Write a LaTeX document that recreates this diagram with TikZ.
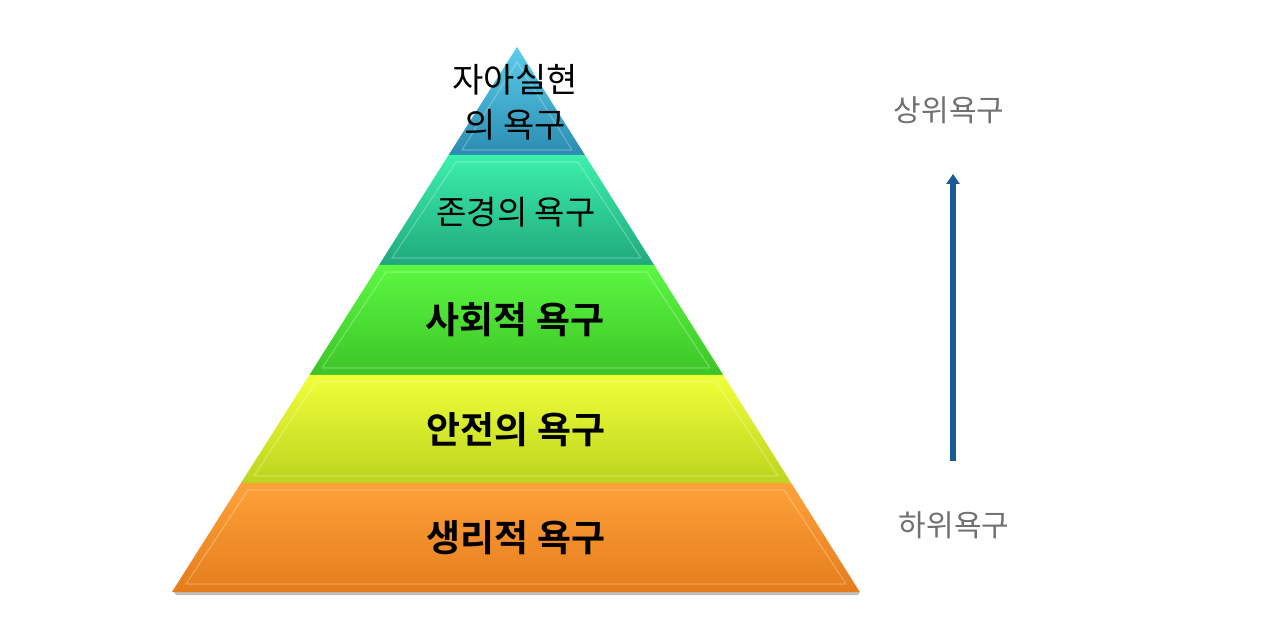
\documentclass[tikz,border=0pt]{standalone}
\usepackage{fontspec}
\newfontfamily\kr{Noto Sans CJK KR}[BoldFont={Noto Sans CJK KR Bold}]
\usetikzlibrary{arrows.meta}
\definecolor{topA}{HTML}{5CCDEB}\definecolor{topB}{HTML}{2A8CB0}
\definecolor{tealA}{HTML}{3CF0AC}\definecolor{tealB}{HTML}{20A87C}
\definecolor{grnA}{HTML}{5CF842}\definecolor{grnB}{HTML}{3CC426}
\definecolor{yelA}{HTML}{F0FF3A}\definecolor{yelB}{HTML}{BCD41E}
\definecolor{orgA}{HTML}{FFA23A}\definecolor{orgB}{HTML}{E47C1C}
\definecolor{sidegray}{HTML}{707070}
\definecolor{arrowblue}{HTML}{1A5A96}
\tikzset{
  layertext/.style={font=\kr\bfseries\fontsize{37}{40}\selectfont, text=black, inner sep=0pt},
  toptext/.style={font=\kr\fontsize{34}{38}\selectfont, text=black, inner sep=0pt},
  lighttext/.style={font=\kr\fontsize{33}{36}\selectfont, text=black, inner sep=0pt},
  sidetext/.style={font=\kr\fontsize{30}{34}\selectfont, text=sidegray, inner sep=0pt},
  bevel/.style={draw=white, draw opacity=0.25, line width=1.2pt, line join=round},
  upward/.style={draw=arrowblue, line width=6pt, -{Triangle[length=10pt,width=13pt]}},
}
\begin{document}
\begin{tikzpicture}[x=1pt,y=-1pt]
\useasboundingbox (0,0) rectangle (1280,617);
\fill[white] (0,0) rectangle (1280,617);
% shadow under base
\fill[black!25] (174,592) -- (860,592) -- (858,595) -- (176,595) -- cycle;
% layers
\shade[top color=topA, bottom color=topB] (517,47) -- (584.9,155) -- (448.6,155) -- cycle;
\shade[top color=tealA, bottom color=tealB] (448.6,155) -- (584.9,155) -- (654.1,265) -- (379.0,265) -- cycle;
\shade[top color=grnA, bottom color=grnB] (379.0,265) -- (654.1,265) -- (723.3,375) -- (309.4,375) -- cycle;
\shade[top color=yelA, bottom color=yelB] (309.4,375) -- (723.3,375) -- (791.2,483) -- (241.0,483) -- cycle;
\shade[top color=orgA, bottom color=orgB] (241.0,483) -- (791.2,483) -- (859.8,592) -- (172,592) -- cycle;
% bevel highlights
\draw[bevel] (517,62) -- (572,150) -- (462,150) -- cycle;
\draw[bevel] (456,162) -- (578,162) -- (641,258) -- (392,258) -- cycle;
\draw[bevel] (386,272) -- (647,272) -- (710,368) -- (322,368) -- cycle;
\draw[bevel] (316,382) -- (716,382) -- (778,476) -- (254,476) -- cycle;
\draw[bevel] (248,490) -- (784,490) -- (846,584) -- (186,584) -- cycle;
% layer texts
\node[toptext] (t1a) at (515,80) {자아실현};
\node[toptext] (t1b) at (515,125) {의 욕구};
\node[lighttext] (t2) at (516,212) {존경의 욕구};
\node[layertext] (t3) at (515,320) {사회적 욕구};
\node[layertext] (t4) at (516,430) {안전의 욕구};
\node[layertext] (t5) at (516,538) {생리적 욕구};
% side labels and arrow
\node[sidetext] (hi) at (949,110) {상위욕구};
\node[sidetext] (lo) at (954,525) {하위욕구};
\coordinate (abot) at (953,461);
\coordinate (atop) at (953,174);
\draw[upward] (abot) -- (atop);
\end{tikzpicture}
\end{document}
